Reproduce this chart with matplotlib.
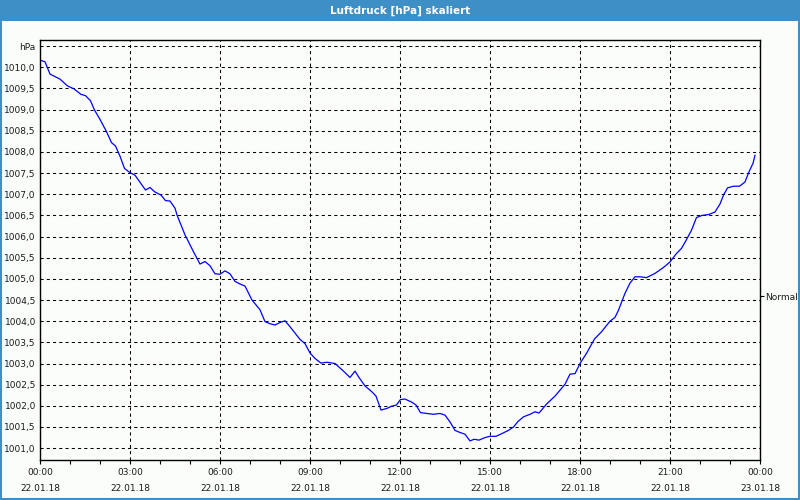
import matplotlib
matplotlib.use("Agg")
import matplotlib.pyplot as plt
import matplotlib.dates as mdates
from matplotlib.patches import Rectangle
import pandas as pd

# readings of 22.01.18 (time, hPa)
times = ["00:00", "00:10", "00:20", "00:40", "00:55", "01:08", "01:22", "01:31", "01:41", "01:49",
         "01:59", "02:13", "02:23", "02:31", "02:40", "02:49", "03:00", "03:10", "03:19", "03:31",
         "03:40", "03:49", "04:02", "04:11", "04:20", "04:30", "04:34", "04:50", "05:07", "05:20",
         "05:30", "05:40", "05:50", "06:00", "06:10", "06:20", "06:30", "06:40", "06:50", "07:04",
         "07:20", "07:30", "07:40", "07:50", "08:00", "08:10", "08:20", "08:40", "08:50", "09:00",
         "09:10", "09:22", "09:34", "09:50", "10:07", "10:20", "10:30", "10:38", "10:50", "11:04",
         "11:12", "11:22", "11:34", "11:43", "11:53", "12:01", "12:10", "12:23", "12:32", "12:41",
         "12:53", "13:07", "13:20", "13:30", "13:40", "13:50", "14:00", "14:10", "14:20", "14:28",
         "14:38", "14:50", "15:00", "15:12", "15:23", "15:37", "15:47", "15:56", "16:07", "16:20",
         "16:30", "16:38", "16:53", "17:10", "17:30", "17:40", "17:50", "18:00", "18:13", "18:29",
         "18:43", "19:00", "19:10", "19:17", "19:30", "19:40", "19:50", "20:00", "20:13", "20:30",
         "20:47", "21:00", "21:13", "21:23", "21:34", "21:43", "21:53", "22:04", "22:17", "22:30",
         "22:40", "22:47", "22:55", "23:07", "23:19", "23:30", "23:38", "23:46", "23:50"]
pressure = [1010.17, 1010.13, 1009.84, 1009.72, 1009.56, 1009.49, 1009.36, 1009.33, 1009.21, 1008.99,
            1008.79, 1008.48, 1008.22, 1008.14, 1007.90, 1007.61, 1007.51, 1007.45, 1007.30, 1007.10,
            1007.16, 1007.06, 1006.98, 1006.85, 1006.84, 1006.67, 1006.51, 1006.04, 1005.64, 1005.35,
            1005.41, 1005.31, 1005.12, 1005.11, 1005.19, 1005.12, 1004.94, 1004.88, 1004.83, 1004.50,
            1004.27, 1003.99, 1003.94, 1003.91, 1003.97, 1004.01, 1003.87, 1003.57, 1003.47, 1003.25,
            1003.12, 1003.01, 1003.03, 1003.00, 1002.82, 1002.67, 1002.82, 1002.67, 1002.47, 1002.33,
            1002.23, 1001.90, 1001.94, 1001.99, 1002.02, 1002.15, 1002.16, 1002.09, 1002.02, 1001.84,
            1001.82, 1001.80, 1001.82, 1001.78, 1001.62, 1001.42, 1001.37, 1001.33, 1001.17, 1001.21,
            1001.19, 1001.25, 1001.28, 1001.28, 1001.34, 1001.42, 1001.50, 1001.63, 1001.74, 1001.80,
            1001.86, 1001.83, 1002.04, 1002.23, 1002.51, 1002.75, 1002.76, 1003.00, 1003.24, 1003.58,
            1003.75, 1004.00, 1004.09, 1004.26, 1004.66, 1004.90, 1005.05, 1005.05, 1005.03, 1005.13,
            1005.27, 1005.40, 1005.60, 1005.72, 1005.95, 1006.15, 1006.45, 1006.50, 1006.52, 1006.58,
            1006.77, 1006.98, 1007.15, 1007.19, 1007.19, 1007.29, 1007.53, 1007.73, 1007.92]

y_ticks = [1001.0, 1001.5, 1002.0, 1002.5, 1003.0, 1003.5, 1004.0, 1004.5, 1005.0,
           1005.5, 1006.0, 1006.5, 1007.0, 1007.5, 1008.0, 1008.5, 1009.0, 1009.5, 1010.0, 1010.5]
normal_value = 1004.59
title = "Luftdruck [hPa] skaliert"

blue = "#3d8fc6"
bg = "#fbfdfb"

t = pd.to_datetime(["2018-01-22 " + s for s in times])

fig = plt.figure(figsize=(8, 5), dpi=100, facecolor=bg)
ax = fig.add_axes([0.05, 0.08, 0.90, 0.84])
ax.set_facecolor(bg)

ax.plot(t, pressure, color="#0000ff", lw=0.9)

ax.set_xlim(pd.Timestamp("2018-01-22 00:00"), pd.Timestamp("2018-01-23 00:00"))
ax.set_ylim(1000.72, 1010.645)

ax.xaxis.set_major_locator(mdates.HourLocator(byhour=range(0, 24, 3)))
ax.xaxis.set_minor_locator(mdates.HourLocator())
ax.xaxis.set_major_formatter(mdates.DateFormatter("%H:%M\n%d.%m.%y"))

labels = [f"{v:.1f}".replace(".", ",") for v in y_ticks]
labels[-1] = "hPa"
ax.set_yticks(y_ticks, labels)

ax.grid(True, which="major", color="black", lw=0.75, linestyle=(0, (3, 3)))
ax.tick_params(axis="y", length=0, pad=3, labelsize=6.5, colors="#1a1a1a")
ax.tick_params(axis="x", which="both", length=3, width=0.8, pad=3, labelsize=6.5,
               colors="black", labelcolor="#1a1a1a")
for lbl in ax.get_xticklabels():
    lbl.set_linespacing(1.9)

for sp in ax.spines.values():
    sp.set_linewidth(1.0)
    sp.set_color("black")

sec = ax.secondary_yaxis("right")
sec.set_yticks([normal_value], ["Normal"])
sec.tick_params(length=3, width=0.8, pad=1, labelsize=6.5, colors="black", labelcolor="#1a1a1a")
sec.spines["right"].set_visible(False)

# title bar and frame
fig.patches.append(Rectangle((0, 1 - 21 / 500), 1, 21 / 500, transform=fig.transFigure,
                             facecolor=blue, edgecolor="none", zorder=0))
fig.patches.append(Rectangle((0.001, 0.002), 0.998, 0.996, transform=fig.transFigure,
                             facecolor="none", edgecolor=blue, lw=1.5, zorder=0))
fig.text(0.5, 1 - 10.5 / 500, title, color="white", fontsize=7.5, fontweight="bold",
         ha="center", va="center")

fig.savefig("out.png", dpi=100, facecolor=bg)
